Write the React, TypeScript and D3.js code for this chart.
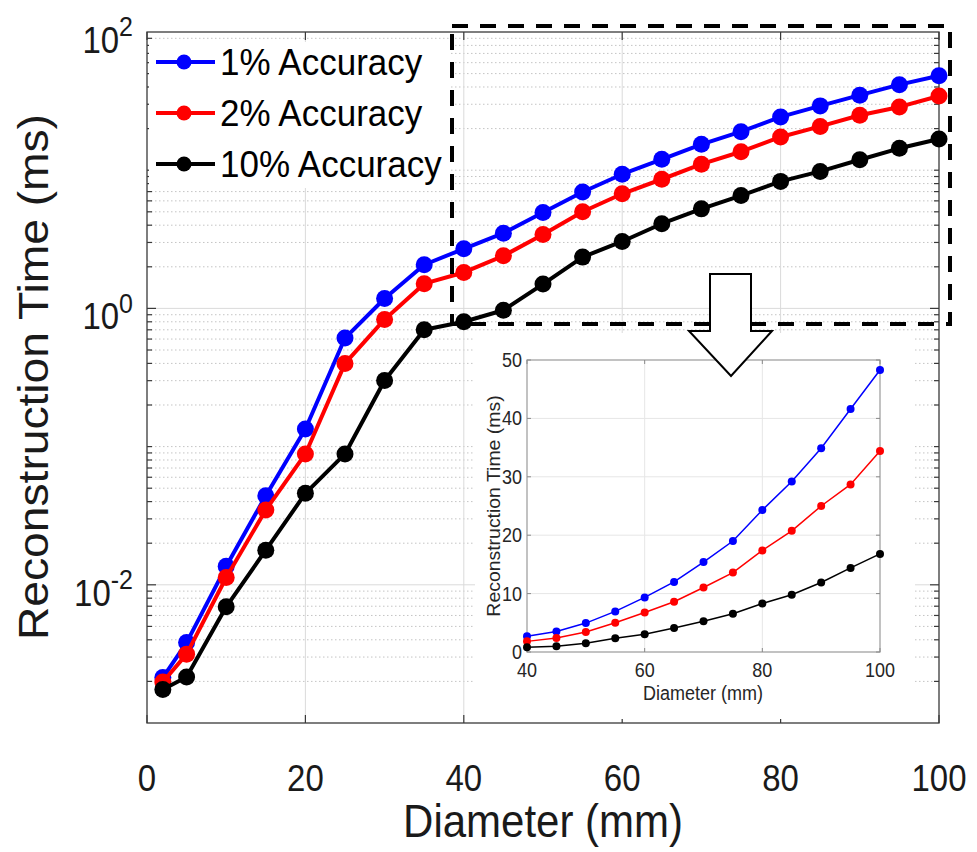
import React from "react"
import * as d3 from "d3"

// diameters (mm) and reconstruction times (ms)
const diameter = [2, 5, 10, 15, 20, 25, 30, 35, 40, 45, 50, 55, 60, 65, 70, 75, 80, 85, 90, 95, 100]
const acc1 = [0.00213, 0.00382, 0.0136, 0.0441, 0.134, 0.61, 1.18, 2.07, 2.7, 3.5, 4.95, 6.95, 9.35, 12.0, 15.4, 19.0, 24.3, 29.2, 34.9, 41.6, 48.3]
const acc2 = [0.00198, 0.00315, 0.0113, 0.0348, 0.0885, 0.4, 0.832, 1.51, 1.82, 2.4, 3.42, 5.0, 6.75, 8.6, 11.05, 13.6, 17.4, 20.75, 25.0, 28.7, 34.4]
const acc10 = [0.00175, 0.00215, 0.00693, 0.0178, 0.0459, 0.0885, 0.301, 0.7, 0.8, 0.97, 1.5, 2.35, 3.05, 4.1, 5.25, 6.55, 8.3, 9.8, 11.9, 14.4, 16.8]

const seriesNames = ["1% Accuracy", "2% Accuracy", "10% Accuracy"]
const seriesColors = ["#0000ff", "#ff0000", "#000000"]
const seriesValues = [acc1, acc2, acc10]

const xTicks = [0, 20, 40, 60, 80, 100]
const yTickExps = [-2, 0, 2]
const insetXTicks = [40, 60, 80, 100]
const insetYTicks = [0, 10, 20, 30, 40, 50]

const FONT = "'Liberation Sans', Arial, Helvetica, sans-serif"

export default function App() {
  const W = 977, H = 852
  const x = d3.scaleLinear().domain([0, 100]).range([147, 939])
  const y = d3.scaleLog().domain([1e-3, 1e2]).range([723, 32])
  const [x0, x1] = x.range()
  const [yb, yt] = y.range()

  // minor log values
  const minor: number[] = []
  for (let e = -3; e < 2; e++) {
    for (let k = 1; k < 10; k++) {
      const v = k * Math.pow(10, e)
      if (v > 1e-3 && v < 1e2) minor.push(v)
    }
  }
  const isMajor = (v: number) => yTickExps.some(e => Math.abs(Math.log10(v) - e) < 1e-9)

  const mainLine = (vals: number[]) =>
    d3.line<number>()
      .x((_, i) => x(diameter[i]))
      .y(d => y(d))(vals) as string

  // inset
  const ix = d3.scaleLinear().domain([40, 100]).range([527, 880])
  const iy = d3.scaleLinear().domain([0, 50]).range([652, 360])
  const insetIdx = diameter.map((d, i) => i).filter(i => diameter[i] >= 40)
  const insetLine = (vals: number[]) =>
    d3.line<number>()
      .x(i => ix(diameter[i]))
      .y(i => iy(vals[i]))(insetIdx) as string

  const legendY = [62, 113, 164]

  return (
    <svg width={W} height={H} style={{ position: "absolute", left: 0, top: 0, background: "#fff" }} fontFamily={FONT}>
      <rect x={0} y={0} width={W} height={H} fill="#fff" />

      {/* main grid */}
      {minor.map((v, i) => (
        <line key={"g" + i} x1={x0} x2={x1} y1={y(v)} y2={y(v)}
          stroke={isMajor(v) ? "#dadada" : "#c4c4c4"}
          strokeWidth={1}
          strokeDasharray={isMajor(v) ? undefined : "1.5,2.5"} />
      ))}
      {xTicks.slice(1, -1).map(t => (
        <line key={"gx" + t} x1={x(t)} x2={x(t)} y1={yb} y2={yt} stroke="#dadada" strokeWidth={1} />
      ))}

      {/* main axes box and ticks */}
      <rect x={x0} y={yt} width={x1 - x0} height={yb - yt} fill="none" stroke="#3a3a3a" strokeWidth={1.3} />
      {xTicks.map(t => (
        <g key={"xt" + t}>
          <line x1={x(t)} x2={x(t)} y1={yb} y2={yb - 8} stroke="#3a3a3a" strokeWidth={1.2} />
          <line x1={x(t)} x2={x(t)} y1={yt} y2={yt + 8} stroke="#3a3a3a" strokeWidth={1.2} />
          <text transform={`translate(${x(t)}, 791) scale(1, 1.12)`} fontSize={33} textAnchor="middle" fill="#1a1a1a">{t}</text>
        </g>
      ))}
      {minor.map((v, i) => {
        const len = isMajor(v) ? 9 : 5
        return (
          <g key={"yt" + i}>
            <line x1={x0} x2={x0 + len} y1={y(v)} y2={y(v)} stroke="#3a3a3a" strokeWidth={1.2} />
            <line x1={x1} x2={x1 - len} y1={y(v)} y2={y(v)} stroke="#3a3a3a" strokeWidth={1.2} />
          </g>
        )
      })}
      {yTickExps.map(e => (
        <text key={"yl" + e} transform={`translate(133, ${y(Math.pow(10, e)) + 21}) scale(1, 1.12)`} textAnchor="end" fill="#1a1a1a">
          <tspan fontSize={33}>10</tspan>
          <tspan fontSize={25} dy={-15}>{e}</tspan>
        </text>
      ))}

      {/* axis titles */}
      <text transform={`translate(${x(50)}, 837) scale(1, 1.1)`} fontSize={42} textAnchor="middle" fill="#1a1a1a">Diameter (mm)</text>
      <text transform={`translate(48, 377) rotate(-90) scale(1.1, 1)`} fontSize={42} textAnchor="middle" fill="#1a1a1a">Reconstruction Time (ms)</text>

      {/* main series */}
      {seriesValues.map((vals, s) => (
        <g key={"s" + s}>
          <path d={mainLine(vals)} fill="none" stroke={seriesColors[s]} strokeWidth={4} strokeLinejoin="round" />
          {vals.map((v, i) => (
            <circle key={i} cx={x(diameter[i])} cy={y(v)} r={8.5} fill={seriesColors[s]} />
          ))}
        </g>
      ))}

      {/* legend */}
      <rect x={149} y={42} width={300} height={146} fill="#fff" />
      {seriesNames.map((n, s) => (
        <g key={"lg" + s}>
          <line x1={156} x2={215} y1={legendY[s]} y2={legendY[s]} stroke={seriesColors[s]} strokeWidth={4} />
          <circle cx={184} cy={legendY[s]} r={7.5} fill={seriesColors[s]} />
          <text transform={`translate(220, ${legendY[s] + 13}) scale(1, 1.07)`} fontSize={35} fill="#000">{n}</text>
        </g>
      ))}

      {/* zoom frame */}
      <rect x={452} y={26} width={498} height={298} fill="none" stroke="#000" strokeWidth={4} strokeDasharray="16,12" />

      {/* inset panel */}
      <rect x={475} y={333} width={440} height={386} fill="#fff" />
      {insetYTicks.slice(1, -1).map(t => (
        <line key={"igy" + t} x1={ix(40)} x2={ix(100)} y1={iy(t)} y2={iy(t)} stroke="#e6e6e6" strokeWidth={1} />
      ))}
      {insetXTicks.slice(1, -1).map(t => (
        <line key={"igx" + t} x1={ix(t)} x2={ix(t)} y1={iy(0)} y2={iy(50)} stroke="#e6e6e6" strokeWidth={1} />
      ))}
      <rect x={ix(40)} y={iy(50)} width={ix(100) - ix(40)} height={iy(0) - iy(50)} fill="none" stroke="#9a9a9a" strokeWidth={1.2} />
      {insetXTicks.map(t => (
        <g key={"ixt" + t}>
          <line x1={ix(t)} x2={ix(t)} y1={iy(0)} y2={iy(0) - 4} stroke="#8a8a8a" />
          <line x1={ix(t)} x2={ix(t)} y1={iy(50)} y2={iy(50) + 4} stroke="#8a8a8a" />
          <text transform={`translate(${ix(t)}, 677) scale(1, 1.1)`} fontSize={18} textAnchor="middle" fill="#262626">{t}</text>
        </g>
      ))}
      {insetYTicks.map(t => (
        <g key={"iyt" + t}>
          <line x1={ix(40)} x2={ix(40) + 4} y1={iy(t)} y2={iy(t)} stroke="#8a8a8a" />
          <line x1={ix(100)} x2={ix(100) - 4} y1={iy(t)} y2={iy(t)} stroke="#8a8a8a" />
          <text transform={`translate(522, ${iy(t) + 7}) scale(1, 1.1)`} fontSize={18} textAnchor="end" fill="#262626">{t}</text>
        </g>
      ))}
      <text transform={`translate(703, 700) scale(1, 1.1)`} fontSize={18} textAnchor="middle" fill="#262626">Diameter (mm)</text>
      <text transform={`translate(500, 506) rotate(-90) scale(1.08, 1)`} fontSize={18} textAnchor="middle" fill="#262626">Reconstruction Time (ms)</text>
      {seriesValues.map((vals, s) => (
        <g key={"is" + s}>
          <path d={insetLine(vals)} fill="none" stroke={seriesColors[s]} strokeWidth={1.5} />
          {insetIdx.map(i => (
            <circle key={i} cx={ix(diameter[i])} cy={iy(vals[i])} r={4} fill={seriesColors[s]} />
          ))}
        </g>
      ))}

      {/* arrow */}
      <path d="M710,274 L751,274 L751,331 L772,331 L731,376 L689,331 L710,331 Z" fill="#fff" stroke="#000" strokeWidth={2} strokeLinejoin="miter" />
    </svg>
  )
}
